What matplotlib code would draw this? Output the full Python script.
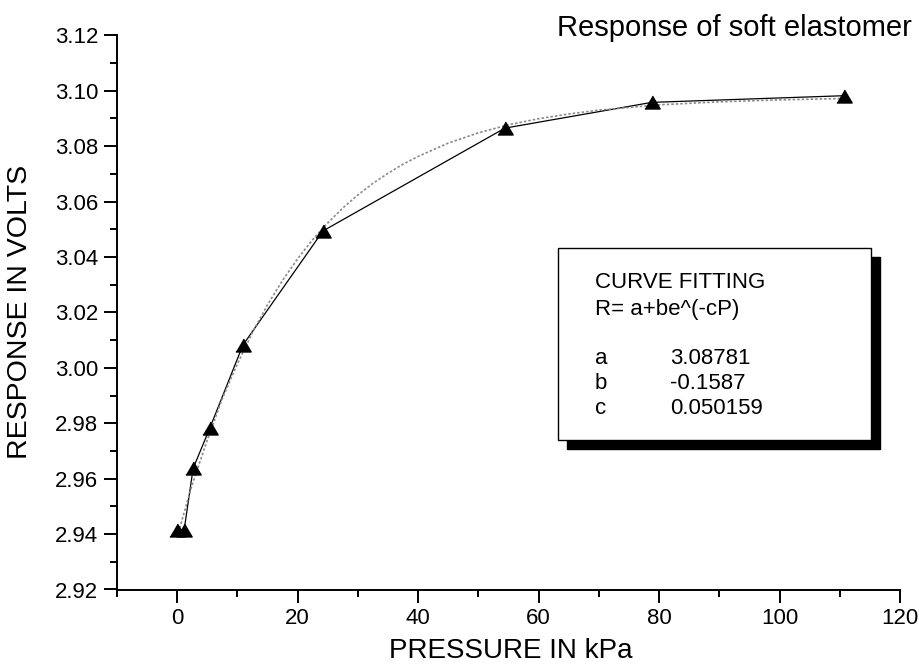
import matplotlib
matplotlib.use("Agg")
import matplotlib.pyplot as plt
from matplotlib.patches import Rectangle
from matplotlib.ticker import MultipleLocator, FormatStrFormatter

plt.rcParams['font.family'] = ['Liberation Sans', 'DejaVu Sans']

# measured data
pressure = [0.0, 1.15, 2.64, 5.4, 10.9, 24.2, 54.4, 78.8, 110.7]
response = [2.9415, 2.9415, 2.9637, 2.9782, 3.0082, 3.0494, 3.0865, 3.0958, 3.0982]

# fitted curve
fit_p = [0, 2.5, 5, 7.5, 10, 12.5, 15, 17.5, 20, 22.5, 25, 27.5, 30, 32.5, 35, 37.5, 40,
         45, 50, 55, 60, 65, 70, 80, 90, 100, 110.7]
fit_r = [2.939, 2.958, 2.974, 2.989, 3.0015, 3.0128, 3.0228, 3.0316, 3.0394, 3.0463, 3.0523,
         3.0577, 3.0624, 3.0666, 3.0702, 3.0735, 3.0763, 3.0811, 3.0848, 3.0877, 3.0899,
         3.0916, 3.0930, 3.0949, 3.0960, 3.0967, 3.0972]

title = "Response of soft elastomer"
xlabel = "PRESSURE IN kPa"
ylabel = "RESPONSE IN VOLTS"
box_lines = ["CURVE FITTING", "R= a+be^(-cP)"]
param_names = ["a", "b", "c"]
param_values = ["3.08781", "-0.1587", "0.050159"]

W, H = 920, 666
fig = plt.figure(figsize=(W / 100, H / 100), dpi=100)
ax = fig.add_axes([117 / W, 1 - 589.5 / H, (900 - 117) / W, (589.5 - 35.3) / H])

ax.plot(pressure, response, color='black', lw=0.9, zorder=2)
ax.plot(fit_p, fit_r, color='#8a8a8a', lw=1.2, linestyle=(0, (1.5, 1.2)), zorder=3)
tri = [(-1, -0.85), (1, -0.85), (0, 0.85)]
ax.plot(pressure, response, linestyle='none', marker=tri, ms=11, color='black', zorder=4)

ax.set_xlim(-10, 120)
ax.set_ylim(2.92, 3.12)
ax.xaxis.set_major_locator(MultipleLocator(20))
ax.xaxis.set_minor_locator(MultipleLocator(10))
ax.yaxis.set_major_locator(MultipleLocator(0.02))
ax.yaxis.set_minor_locator(MultipleLocator(0.01))
ax.yaxis.set_major_formatter(FormatStrFormatter('%.2f'))
ax.xaxis.set_major_formatter(FormatStrFormatter('%d'))

for s in ['top', 'right']:
    ax.spines[s].set_visible(False)
for s in ['left', 'bottom']:
    ax.spines[s].set_linewidth(1.4)
ax.tick_params(axis='both', which='major', length=9.5, width=1.4, direction='out',
               labelsize=16, pad=4)
ax.tick_params(axis='both', which='minor', length=5, width=1.4, direction='out')

fig.text(20 / W, 1 - 312 / H, ylabel, rotation=90, fontsize=20.5, ha='center', va='center')
fig.text(511 / W, 1 - 651 / H, xlabel, fontsize=20, ha='center', va='center')
fig.text(912 / W, 1 - 28 / H, title, fontsize=21, ha='right', va='center')

# fitting box with shadow
bx0, by0, bx1, by1 = 558, 248, 871, 440
off = 9
fig.patches.append(Rectangle(((bx0 + off) / W, 1 - (by1 + off) / H), (bx1 - bx0) / W, (by1 - by0) / H,
                             transform=fig.transFigure, facecolor='black', edgecolor='black', zorder=5))
fig.patches.append(Rectangle((bx0 / W, 1 - by1 / H), (bx1 - bx0) / W, (by1 - by0) / H,
                             transform=fig.transFigure, facecolor='white', edgecolor='black', lw=1.0, zorder=6))

fs = 16
fig.text(595 / W, 1 - 288 / H, box_lines[0], fontsize=fs, ha='left', va='baseline', zorder=7)
fig.text(595 / W, 1 - 315 / H, box_lines[1], fontsize=fs, ha='left', va='baseline', zorder=7)
for i, (n, v) in enumerate(zip(param_names, param_values)):
    yb = 364 + i * 25
    fig.text(595 / W, 1 - yb / H, n, fontsize=fs, ha='left', va='baseline', zorder=7)
    fig.text(670 / W, 1 - yb / H, v, fontsize=fs, ha='left', va='baseline', zorder=7)

fig.savefig("out.png", dpi=100)
